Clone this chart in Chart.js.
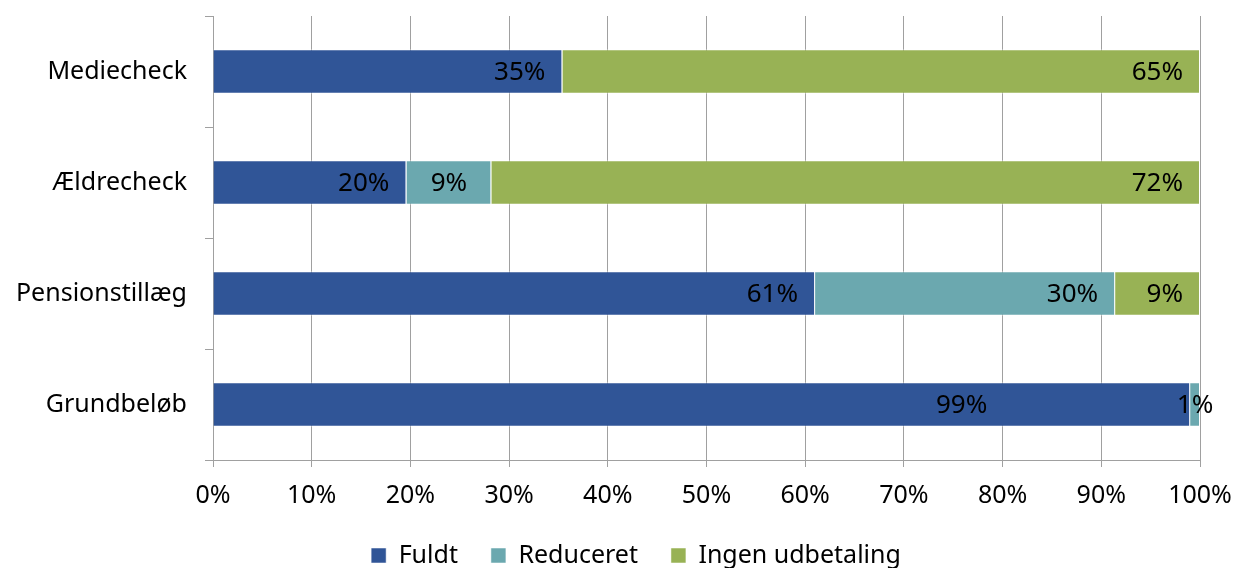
<!DOCTYPE html>
<html>
<head>
<meta charset="utf-8">
<script src="https://cdn.jsdelivr.net/npm/chart.js@4.4.1/dist/chart.umd.min.js"></script>
<style>
html,body{margin:0;padding:0;background:#fff;}
#wrap{width:1240px;height:568px;position:relative;}
</style>
</head>
<body>
<div id="wrap"><canvas id="c" width="1240" height="568"></canvas></div>
<script>
const categories = ["Mediecheck", "Ældrecheck", "Pensionstillæg", "Grundbeløb"];
const fuldt = [35.4, 19.6, 61.0, 99.0];
const reduceret = [0, 8.6, 30.4, 1.0];
const ingen = [64.6, 71.8, 8.6, 0];
const xTicks = [0, 10, 20, 30, 40, 50, 60, 70, 80, 90, 100];

const FONT = "'Noto Sans', sans-serif";
const FS = 25;

// label placement: inside end by default; exceptions by dataset:index
const labelPlacement = {
  "1:1": "center",
  "1:3": "center",
  "0:3": "shift"
};

const barLabels = {
  id: 'barLabels',
  afterDatasetsDraw(chart) {
    const ctx = chart.ctx;
    ctx.save();
    ctx.font = (FS + 1) + "px " + FONT;
    ctx.fillStyle = "#000";
    ctx.textBaseline = "middle";
    chart.data.datasets.forEach((ds, di) => {
      const meta = chart.getDatasetMeta(di);
      meta.data.forEach((el, i) => {
        const v = ds.data[i];
        if (!v) return;
        const txt = Math.round(v) + "%";
        const mode = labelPlacement[di + ":" + i] || "end";
        const left = Math.min(el.base, el.x), right = Math.max(el.base, el.x);
        if (mode === "center") {
          ctx.textAlign = "center";
          ctx.fillText(txt, (left + right) / 2, el.y + 1);
        } else if (mode === "shift") {
          ctx.textAlign = "center";
          ctx.fillText(txt, left + (right - left) * 0.766, el.y + 1);
        } else {
          ctx.textAlign = "right";
          ctx.fillText(txt, right - 17, el.y + 1);
        }
      });
    });
    ctx.restore();
  }
};

const legendSize = {
  id: 'legendSize',
  afterInit(chart) {
    const lg = chart.legend;
    if (lg) {
      const origFit = lg.fit.bind(lg);
      lg.fit = function () { origFit(); this.height = 58; };
    }
  },
  afterLayout(chart) {
    const lg = chart.legend;
    if (lg) { lg.left += 36; lg.right += 36; }
  }
};

const gridColor = "#a0a0a0";

new Chart(document.getElementById('c'), {
  type: 'bar',
  data: {
    labels: categories,
    datasets: [
      {label: "Fuldt", data: fuldt, backgroundColor: "#305597", borderColor: "rgba(255,255,255,0.5)", borderWidth: 1},
      {label: "Reduceret", data: reduceret, backgroundColor: "#6BA8AF", borderColor: "rgba(255,255,255,0.5)", borderWidth: 1},
      {label: "Ingen udbetaling", data: ingen, backgroundColor: "#98B255", borderColor: "rgba(255,255,255,0.5)", borderWidth: 1}
    ]
  },
  options: {
    indexAxis: 'y',
    responsive: false,
    animation: false,
    devicePixelRatio: 1,
    layout: {padding: {top: 16, right: 40, left: 0, bottom: 0}},
    datasets: {bar: {categoryPercentage: 1.0, barPercentage: 0.4}},
    scales: {
      x: {
        stacked: true,
        min: 0, max: 100,
        afterBuildTicks(scale) { scale.ticks = xTicks.map(v => ({value: v})); },
        afterFit(scale) { scale.height = 50; scale.paddingLeft = 0; scale.paddingRight = 0; },
        ticks: {
          callback: v => v + "%",
          font: {family: FONT, size: FS},
          color: "#000",
          padding: 14,
          maxRotation: 0
        },
        grid: {color: gridColor, lineWidth: 1, tickLength: 7, drawTicks: true},
        border: {color: gridColor, width: 1}
      },
      y: {
        stacked: true,
        afterFit(scale) { scale.width = 213; scale.paddingTop = 0; scale.paddingBottom = 0; },
        ticks: {
          font: {family: FONT, size: FS},
          color: "#000",
          padding: 18
        },
        grid: {offset: true, drawOnChartArea: false, color: gridColor, tickLength: 8},
        border: {color: gridColor, width: 1}
      }
    },
    plugins: {
      legend: {
        position: 'bottom',
        labels: {
          font: {family: FONT, size: FS},
          color: "#000",
          boxWidth: 15,
          boxHeight: 15,
          padding: 33,
          useBorderRadius: false
        }
      },
      tooltip: {enabled: false}
    }
  },
  plugins: [legendSize, barLabels]
});
</script>
</body>
</html>
